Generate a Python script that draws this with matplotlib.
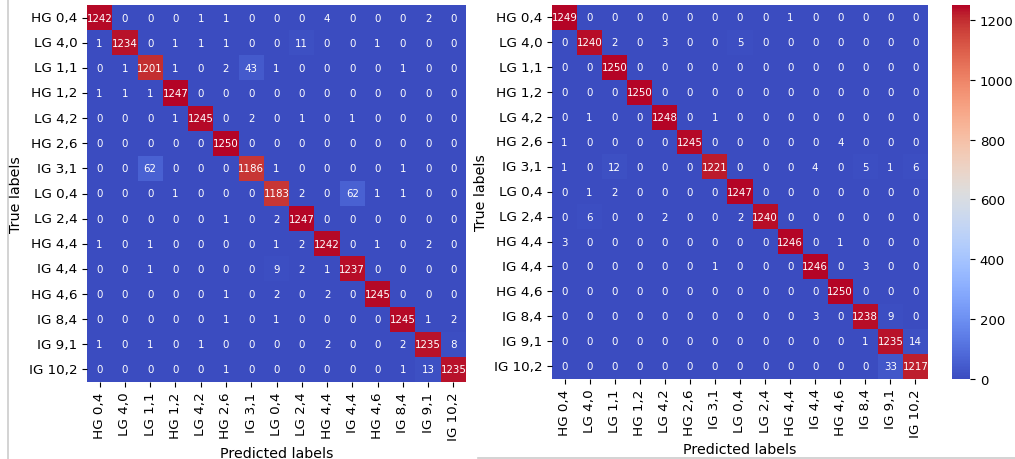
import numpy as np
import matplotlib
matplotlib.use("Agg")
import matplotlib.pyplot as plt
import seaborn as sns
from matplotlib.lines import Line2D

labels = ["HG 0,4", "LG 4,0", "LG 1,1", "HG 1,2", "LG 4,2", "HG 2,6", "IG 3,1",
          "LG 0,4", "LG 2,4", "HG 4,4", "IG 4,4", "HG 4,6", "IG 8,4", "IG 9,1", "IG 10,2"]

cm_left = [
    [1242, 0, 0, 0, 1, 1, 0, 0, 0, 4, 0, 0, 0, 2, 0],
    [1, 1234, 0, 1, 1, 1, 0, 0, 11, 0, 0, 1, 0, 0, 0],
    [0, 1, 1201, 1, 0, 2, 43, 1, 0, 0, 0, 0, 1, 0, 0],
    [1, 1, 1, 1247, 0, 0, 0, 0, 0, 0, 0, 0, 0, 0, 0],
    [0, 0, 0, 1, 1245, 0, 2, 0, 1, 0, 1, 0, 0, 0, 0],
    [0, 0, 0, 0, 0, 1250, 0, 0, 0, 0, 0, 0, 0, 0, 0],
    [0, 0, 62, 0, 0, 0, 1186, 1, 0, 0, 0, 0, 1, 0, 0],
    [0, 0, 0, 1, 0, 0, 0, 1183, 2, 0, 62, 1, 1, 0, 0],
    [0, 0, 0, 0, 0, 1, 0, 2, 1247, 0, 0, 0, 0, 0, 0],
    [1, 0, 1, 0, 0, 0, 0, 1, 2, 1242, 0, 1, 0, 2, 0],
    [0, 0, 1, 0, 0, 0, 0, 9, 2, 1, 1237, 0, 0, 0, 0],
    [0, 0, 0, 0, 0, 1, 0, 2, 0, 2, 0, 1245, 0, 0, 0],
    [0, 0, 0, 0, 0, 1, 0, 1, 0, 0, 0, 0, 1245, 1, 2],
    [1, 0, 1, 0, 1, 0, 0, 0, 0, 2, 0, 0, 2, 1235, 8],
    [0, 0, 0, 0, 0, 1, 0, 0, 0, 0, 0, 0, 1, 13, 1235],
]

cm_right = [
    [1249, 0, 0, 0, 0, 0, 0, 0, 0, 1, 0, 0, 0, 0, 0],
    [0, 1240, 2, 0, 3, 0, 0, 5, 0, 0, 0, 0, 0, 0, 0],
    [0, 0, 1250, 0, 0, 0, 0, 0, 0, 0, 0, 0, 0, 0, 0],
    [0, 0, 0, 1250, 0, 0, 0, 0, 0, 0, 0, 0, 0, 0, 0],
    [0, 1, 0, 0, 1248, 0, 1, 0, 0, 0, 0, 0, 0, 0, 0],
    [1, 0, 0, 0, 0, 1245, 0, 0, 0, 0, 0, 4, 0, 0, 0],
    [1, 0, 12, 0, 0, 0, 1221, 0, 0, 0, 4, 0, 5, 1, 6],
    [0, 1, 2, 0, 0, 0, 0, 1247, 0, 0, 0, 0, 0, 0, 0],
    [0, 6, 0, 0, 2, 0, 0, 2, 1240, 0, 0, 0, 0, 0, 0],
    [3, 0, 0, 0, 0, 0, 0, 0, 0, 1246, 0, 1, 0, 0, 0],
    [0, 0, 0, 0, 0, 0, 1, 0, 0, 0, 1246, 0, 3, 0, 0],
    [0, 0, 0, 0, 0, 0, 0, 0, 0, 0, 0, 1250, 0, 0, 0],
    [0, 0, 0, 0, 0, 0, 0, 0, 0, 0, 3, 0, 1238, 9, 0],
    [0, 0, 0, 0, 0, 0, 0, 0, 0, 0, 0, 0, 1, 1235, 14],
    [0, 0, 0, 0, 0, 0, 0, 0, 0, 0, 0, 0, 0, 33, 1217],
]

W, H = 1015, 460
fig = plt.figure(figsize=(W / 100, H / 100), dpi=100)
plt.rcParams['font.family'] = ['DejaVu Sans']

def fx(px):
    return px / W

def fy(py):
    return 1 - py / H

ax1 = fig.add_axes([fx(87), fy(383), fx(466) - fx(87), fy(6) - fy(383)])
ax2 = fig.add_axes([fx(552), fy(379.5), fx(928) - fx(552), fy(6) - fy(379.5)])
cax = fig.add_axes([fx(952), fy(380), fx(970) - fx(952), fy(6) - fy(380)])

for ax, cm, cb in [(ax1, cm_left, False), (ax2, cm_right, True)]:
    sns.heatmap(np.array(cm), annot=True, fmt='d', cmap='coolwarm', ax=ax,
                cbar=cb, cbar_ax=cax if cb else None,
                xticklabels=labels, yticklabels=labels,
                annot_kws={'fontsize': 7.4, 'color': 'white'})
    ax.set_xlabel('Predicted labels', fontsize=10.3)
    ax.set_ylabel('True labels', fontsize=10.3)
    ax.tick_params(axis='both', labelsize=9.7)
    plt.setp(ax.get_xticklabels(), rotation=90)
    plt.setp(ax.get_yticklabels(), rotation=0)

cax.tick_params(labelsize=9.5)

# screenshot border lines
fig.add_artist(Line2D([fx(7.5), fx(7.5)], [0, 1], color='#cccccc', lw=1.2))
fig.add_artist(Line2D([fx(478), 1], [fy(459), fy(459)], color='#cccccc', lw=1.2))

fig.savefig('out.png', dpi=100)
